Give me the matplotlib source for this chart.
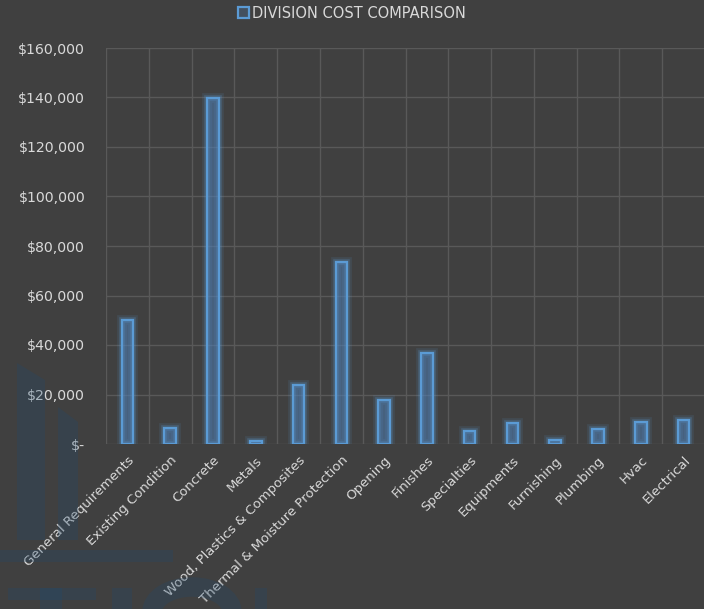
import matplotlib
matplotlib.use("Agg")
import matplotlib.pyplot as plt
import matplotlib.patheffects as pe
from matplotlib.patches import Rectangle, Polygon, Ellipse
from matplotlib.ticker import FuncFormatter, MultipleLocator
import numpy as np

plt.rcParams["font.family"] = ["DejaVu Sans"]

# ---- data ----
categories = [
    "General Requirements", "Existing Condition", "Concrete", "Metals",
    "Wood, Plastics & Composites", "Thermal & Moisture Protection", "Opening",
    "Finishes", "Specialties", "Equipments", "Furnishing", "Plumbing", "Hvac",
    "Electrical",
]
costs = [50100, 6500, 139600, 1200, 23800, 73500, 17800,
         36800, 5400, 8600, 1600, 6200, 9000, 9600]
series_name = "DIVISION COST COMPARISON"

BG = "#404040"
TXT = "#d9d9d9"
GRID = "#595959"
EDGE = "#5b9bd5"

W, H = 704, 609
fig = plt.figure(figsize=(W / 100, H / 100), dpi=100, facecolor=BG)

ax = fig.add_axes([106 / W, 1 - 444 / H, 599 / W, 396 / H])
ax.set_facecolor("none")

x = np.arange(len(categories))
bars = ax.bar(x, costs, width=0.27, facecolor=(0.31, 0.51, 0.74, 0.25),
              edgecolor=EDGE, linewidth=1.6, zorder=3)
for b in bars:
    b.set_path_effects([
        pe.Stroke(linewidth=7, foreground=EDGE, alpha=0.12),
        pe.Stroke(linewidth=4, foreground=EDGE, alpha=0.25),
        pe.Normal(),
    ])

ax.set_xlim(-0.5, len(categories) - 0.5)
ax.set_ylim(0, 160000)
ax.yaxis.set_major_locator(MultipleLocator(20000))
ax.yaxis.set_major_formatter(FuncFormatter(lambda v, p: "$-" if v == 0 else f"${v:,.0f}"))

# grid: horizontal at ticks, vertical at category boundaries
ax.set_xticks(x)
ax.set_xticks(np.arange(-0.5, len(categories), 1), minor=True)
ax.grid(axis="y", which="major", color=GRID, linewidth=1, zorder=0)
ax.grid(axis="x", which="minor", color=GRID, linewidth=1, zorder=0)

ax.set_xticklabels(categories, rotation=45, ha="right", rotation_mode="anchor",
                   color=TXT, fontsize=9.5)
ax.tick_params(axis="x", which="both", length=0, pad=7)
ax.tick_params(axis="y", length=0, pad=15, labelcolor=TXT, labelsize=10.2)
for s in ax.spines.values():
    s.set_visible(False)

# legend at top
leg = fig.legend([bars[0]], [series_name], loc="center", bbox_to_anchor=(0.5, 1 - 13 / H),
                 frameon=False, handlelength=0.7, handleheight=0.7, handletextpad=0.2,
                 fontsize=10.5, labelcolor=TXT)
for h in leg.legend_handles:
    h.set_path_effects([])

# faint logo watermark laid over the lower-left corner
def px(xp, yp):
    return (xp / W, 1 - yp / H)

wm = dict(transform=fig.transFigure, color="#1e4a70", alpha=0.26, lw=0, zorder=10)
shapes = [
    Polygon([px(17, 363), px(45, 380), px(45, 540), px(17, 540)], closed=True, **wm),
    Polygon([px(58, 407), px(78, 422), px(78, 540), px(58, 540)], closed=True, **wm),
    Rectangle(px(0, 562), 173 / W, 12 / H, **wm),
    Rectangle(px(8, 600), 88 / W, 12 / H, **wm),
    Rectangle(px(40, 609), 22 / W, 21 / H, **wm),
    Rectangle(px(112, 609), 20 / W, 21 / H, **wm),
    Rectangle(px(255, 609), 12 / W, 21 / H, **wm),
]
for s in shapes:
    fig.add_artist(s)
fig.add_artist(Ellipse(px(192, 612), 80 / W, 50 / H, transform=fig.transFigure,
                       fill=False, edgecolor="#1e4a70", alpha=0.26, lw=14, zorder=10))

fig.savefig("out.png", dpi=100, facecolor=BG)
